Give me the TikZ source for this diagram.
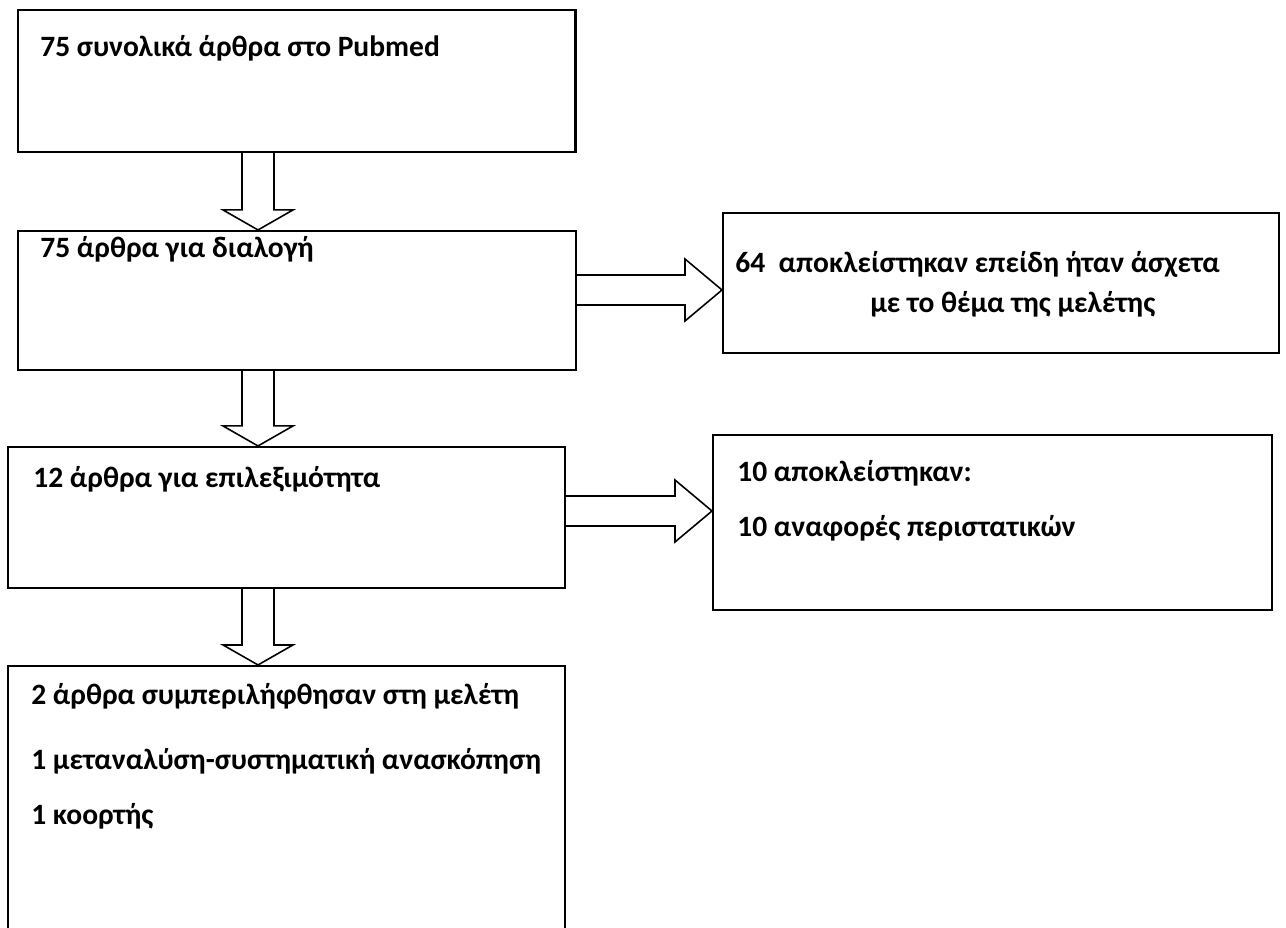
\documentclass[tikz,border=0pt]{standalone}
\usepackage{fontspec}
\setmainfont{Carlito}
\usetikzlibrary{calc}

% block arrow between two boxes: from, to, x of its middle
\newcommand{\downblock}[3]{%
  \draw[blockarr] ($(#1.south -| #3,0)+(-16,0)$) -- ($(#2.north -| #3,0)+(-16,-20)$) -- ++(-19,0)
    -- (#2.north -| #3,0) -- ++(35,-20) -- ++(-19,0) -- ($(#1.south -| #3,0)+(16,0)$);}
% block arrow to the right: from, to, y of its middle
\newcommand{\rightblock}[3]{%
  \draw[blockarr] ($(#1.east |- 0,#3)+(0,-15)$) -- ($(#2.west |- 0,#3)+(-37,-15)$) -- ++(0,-16)
    -- (#2.west |- 0,#3) -- ++(-37,31) -- ++(0,-16) -- ($(#1.east |- 0,#3)+(0,15)$);}

\begin{document}
\begin{tikzpicture}[x=0.02cm, y=-0.02cm,
    box/.style={draw, line width=1.2pt, minimum width=11.16cm, minimum height=2.8cm, inner sep=0},
    txt/.style={font=\fontsize{16.8}{20}\selectfont\bfseries, anchor=base west, inner sep=0},
    blockarr/.style={draw, line width=0.9pt, fill=white},
  ]
    \clip (0,0) rectangle (1286,928);
    \node[box, minimum height=2.84cm] (pub) at (296.5,81) {};
    \node[box, minimum height=2.78cm] (scr) at (297,300.5) {};
    \node[box, minimum width=11.12cm] (exc1) at (1001,283) {};
    \node[box, minimum height=2.82cm, minimum width=11.14cm] (elig) at (286.5,517.5) {};
    \node[box, minimum height=3.5cm, minimum width=11.18cm] (exc2) at (992.5,522.5) {};
    \node[box, minimum height=5.88cm, minimum width=11.14cm] (incl) at (286.5,813) {};

    \node[txt] (t1) at (40,57) {75 συνολικά άρθρα στο Pubmed};
    \node[txt] (t2) at (40,258) {75 άρθρα για διαλογή};
    \node[txt] (t3a) at (735,273) {64\ \ αποκλείστηκαν επείδη ήταν άσχετα};
    \node[txt] (t3b) at (870,313) {με το θέμα της μελέτης};
    \node[txt] (t4) at (33,488) {12 άρθρα για επιλεξιμότητα};
    \node[txt] (t5a) at (737,482) {10 αποκλείστηκαν:};
    \node[txt] (t5b) at (737,537) {10 αναφορές περιστατικών};
    \node[txt] (t6a) at (31,705) {2 άρθρα συμπεριλήφθησαν στη μελέτη};
    \node[txt] (t6b) at (31,770) {1 μεταναλύση-συστηματική ανασκόπηση};
    \node[txt] (t6c) at (31,825) {1 κοορτής};

    \downblock{pub}{scr}{258}
    \downblock{scr}{elig}{258}
    \downblock{elig}{incl}{258}
    \rightblock{scr}{exc1}{290}
    \rightblock{elig}{exc2}{511}
  \end{tikzpicture}
\end{document}
